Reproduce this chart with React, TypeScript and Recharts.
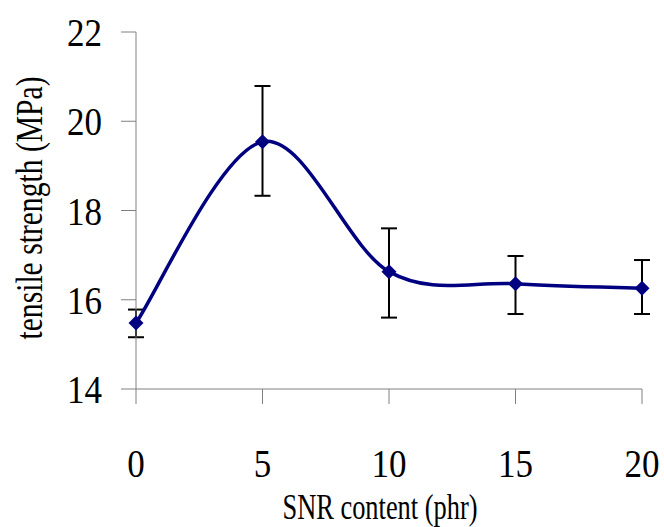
import { CartesianGrid, ErrorBar, Line, LineChart, XAxis, YAxis } from 'recharts';

const snrContent = [0, 5, 10, 15, 20];
const tensileStrength = [15.48, 19.54, 16.63, 16.36, 16.26];
const errMinus = [0.32, 1.21, 1.03, 0.68, 0.58];
const errPlus = [0.3, 1.25, 0.97, 0.62, 0.63];
const xTicks = [0, 5, 10, 15, 20];
const yTicks = [14, 16, 18, 20, 22];

const data = snrContent.map((x, i) => ({
  x,
  y: tensileStrength[i],
  err: [errMinus[i], errPlus[i]],
}));

const NAVY = '#000080';
const AXIS = '#808080';
const FONT = '"Liberation Serif", "Times New Roman", serif';

// smoothed line like the spreadsheet one (catmull-rom style bezier)
function smoothCurve(context: any) {
  let pts: number[][] = [];
  return {
    areaStart() {},
    areaEnd() {},
    lineStart() {
      pts = [];
    },
    point(x: number, y: number) {
      pts.push([+x, +y]);
    },
    lineEnd() {
      if (!pts.length) return;
      context.moveTo(pts[0][0], pts[0][1]);
      for (let i = 0; i < pts.length - 1; i++) {
        const p0 = pts[Math.max(i - 1, 0)];
        const p1 = pts[i];
        const p2 = pts[i + 1];
        const p3 = pts[Math.min(i + 2, pts.length - 1)];
        context.bezierCurveTo(
          p1[0] + (p2[0] - p0[0]) / 6,
          p1[1] + (p2[1] - p0[1]) / 6,
          p2[0] - (p3[0] - p1[0]) / 6,
          p2[1] - (p3[1] - p1[1]) / 6,
          p2[0],
          p2[1],
        );
      }
    },
  };
}

const Diamond = (props: any) => {
  const { cx, cy } = props;
  if (cx == null || cy == null) return null;
  const r = 7.5;
  return <path d={`M${cx},${cy - r}L${cx + r},${cy}L${cx},${cy + r}L${cx - r},${cy}Z`} fill={NAVY} />;
};

const XTick = (props: any) => {
  const { x, y, payload } = props;
  const s = String(payload.value);
  return (
    <text x={x} y={y + 73} textAnchor="middle" fontFamily={FONT} fontSize={40} fill="#000"
      textLength={s.length * 17.5} lengthAdjust="spacingAndGlyphs">
      {s}
    </text>
  );
};

const YTick = (props: any) => {
  const { x, y, payload } = props;
  const s = String(payload.value);
  return (
    <text x={x - 19} y={y + 14} textAnchor="end" fontFamily={FONT} fontSize={41} fill="#000"
      textLength={s.length * 17.5} lengthAdjust="spacingAndGlyphs">
      {s}
    </text>
  );
};

export default function App() {
  return (
    <div style={{ position: 'absolute', left: 0, top: 0, width: 664, height: 527, background: '#fff' }}>
      <LineChart width={664} height={527} data={data} margin={{ top: 32, right: 22, left: 0, bottom: 0 }}>
        <CartesianGrid stroke="none" />
        <XAxis
          dataKey="x"
          type="number"
          domain={[0, 20]}
          ticks={xTicks}
          height={138}
          tickSize={15}
          tickMargin={0}
          stroke={AXIS}
          tick={<XTick />}
        />
        <YAxis
          type="number"
          domain={[14, 22]}
          ticks={yTicks}
          width={136}
          tickSize={15}
          tickMargin={0}
          stroke={AXIS}
          tick={<YTick />}
        />
        <Line
          dataKey="y"
          type={smoothCurve as any}
          stroke={NAVY}
          strokeWidth={3.5}
          dot={<Diamond />}
          activeDot={false}
          isAnimationActive={false}
        >
          <ErrorBar dataKey="err" direction="y" width={8} stroke="#000" strokeWidth={2} />
        </Line>
        <text x={380} y={519} textAnchor="middle" fontFamily={FONT} fontSize={36} fill="#000"
          textLength={195} lengthAdjust="spacingAndGlyphs">
          SNR content (phr)
        </text>
        <text x={42} y={208} transform="rotate(-90 42 208)" textAnchor="middle" fontFamily={FONT} fontSize={38}
          fill="#000" textLength={263} lengthAdjust="spacingAndGlyphs">
          tensile strength (MPa)
        </text>
      </LineChart>
    </div>
  );
}
